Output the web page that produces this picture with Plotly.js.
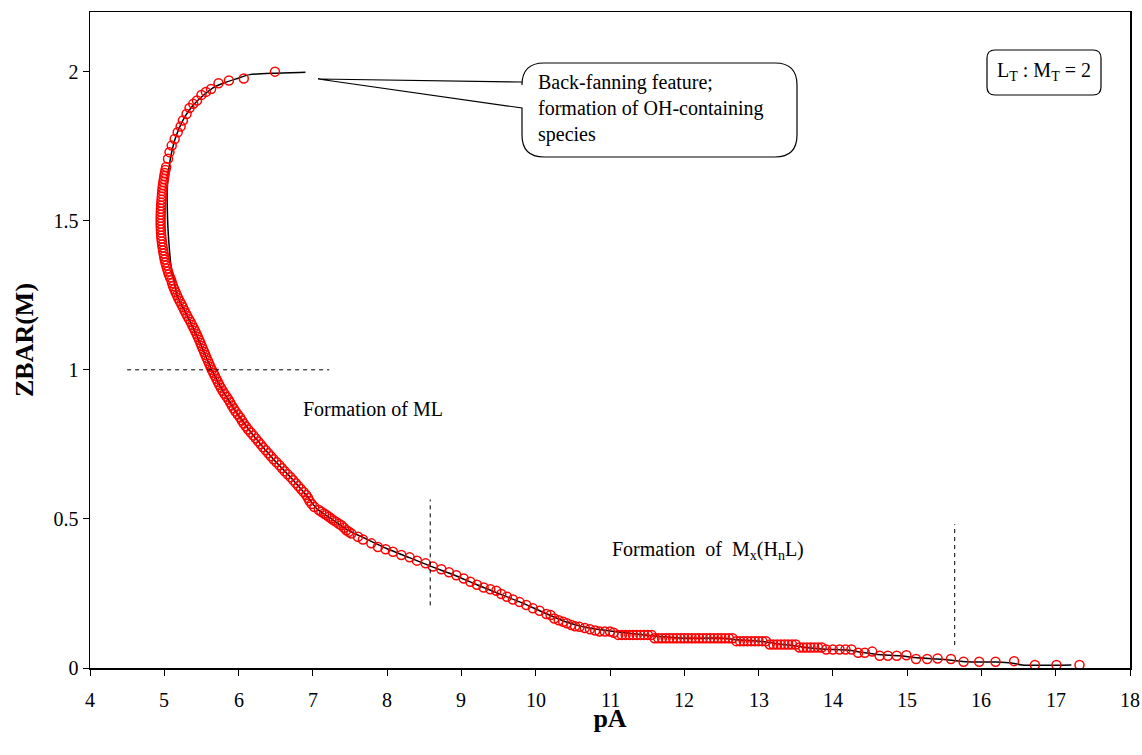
<!DOCTYPE html>
<html>
<head>
<meta charset="utf-8">
<script src="https://cdn.plot.ly/plotly-3.0.1.min.js"></script>
<style>
  html, body { margin: 0; padding: 0; background: #ffffff; }
  #chart { width: 1142px; height: 755px; }
</style>
</head>
<body>
<div id="chart"></div>
<script>
// Experimental ZBAR(M) values against pA
const pA_obs = [
  6.49, 6.07, 5.87, 5.73, 5.63, 5.56, 5.50, 5.44, 5.39, 5.34, 5.30, 5.25, 5.22, 5.18, 5.14, 5.10, 5.07, 5.05,
  5.025, 5.016, 5.008, 5.001, 4.995, 4.988, 4.982, 4.977, 4.973, 4.969, 4.966, 4.963, 4.960, 4.957, 4.955, 4.953,
  4.952, 4.951, 4.951, 4.951, 4.952, 4.954, 4.956, 4.959, 4.962, 4.967, 4.972, 4.978, 4.984, 4.991, 4.998, 5.006,
  5.015, 5.026, 5.038, 5.050, 5.062, 5.078, 5.094, 5.105, 5.118, 5.135, 5.152, 5.170, 5.188, 5.208, 5.230, 5.250,
  5.270, 5.290, 5.310, 5.333, 5.355, 5.375, 5.395, 5.415, 5.435, 5.452, 5.470, 5.487, 5.503, 5.520, 5.537, 5.553,
  5.570, 5.588, 5.605, 5.622, 5.640, 5.660, 5.680, 5.700, 5.720, 5.740, 5.762, 5.786, 5.810, 5.838, 5.865, 5.888,
  5.910, 5.935, 5.960, 5.990, 6.020, 6.045, 6.070, 6.100, 6.130, 6.165, 6.200, 6.232, 6.265, 6.297, 6.330, 6.365,
  6.400, 6.435, 6.470, 6.510, 6.550, 6.585, 6.620, 6.660, 6.700, 6.735, 6.770, 6.805, 6.840, 6.875, 6.910, 6.935,
  6.955, 6.985, 7.020, 7.080, 7.114, 7.150, 7.182, 7.215, 7.249, 7.280, 7.316, 7.350, 7.384, 7.420, 7.451, 7.485,
  7.518, 7.607, 7.674, 7.787, 7.876, 7.980, 8.078, 8.191, 8.303, 8.401, 8.518, 8.616, 8.729, 8.832, 8.931, 9.030,
  9.120, 9.209, 9.299, 9.389, 9.470, 9.537, 9.612, 9.693, 9.783, 9.873, 9.962, 10.052, 10.143, 10.20, 10.25, 10.31,
  10.37, 10.42, 10.48, 10.53, 10.59, 10.66, 10.73, 10.80, 10.86, 10.93, 11.00, 11.05, 11.11,
  11.16, 11.21, 11.26, 11.31, 11.36, 11.41, 11.46, 11.51, 11.56,
  11.60, 11.65, 11.70, 11.75, 11.80, 11.85, 11.90, 11.95, 12.00, 12.05, 12.10, 12.15, 12.20, 12.25, 12.30, 12.35,
  12.40, 12.45, 12.50, 12.55, 12.60, 12.65,
  12.70, 12.75, 12.80, 12.85, 12.90, 12.95, 13.00, 13.05, 13.10,
  13.15, 13.20, 13.25, 13.30, 13.35, 13.40, 13.45, 13.50,
  13.55, 13.60, 13.65, 13.70, 13.75, 13.80, 13.85,
  13.91, 14.00, 14.09, 14.17, 14.25, 14.34, 14.43, 14.53, 14.63, 14.74, 14.86, 14.99,
  15.12, 15.27, 15.41, 15.59, 15.76, 15.97, 16.19, 16.44, 16.72, 17.01, 17.32
];
const zbar_obs = [
  2.000, 1.977, 1.970, 1.961, 1.942, 1.932, 1.922, 1.903, 1.892, 1.878, 1.858, 1.836, 1.816, 1.797, 1.774, 1.752, 1.730, 1.708,
  1.680, 1.670, 1.660, 1.650, 1.640, 1.630, 1.620, 1.610, 1.600, 1.590, 1.580, 1.570, 1.560, 1.550, 1.540, 1.530,
  1.520, 1.510, 1.500, 1.490, 1.480, 1.470, 1.460, 1.450, 1.440, 1.430, 1.420, 1.410, 1.400, 1.390, 1.380, 1.370,
  1.360, 1.350, 1.340, 1.330, 1.320, 1.310, 1.300, 1.290, 1.280, 1.270, 1.260, 1.250, 1.240, 1.230, 1.220, 1.210,
  1.200, 1.190, 1.180, 1.170, 1.160, 1.150, 1.140, 1.130, 1.120, 1.110, 1.100, 1.090, 1.080, 1.070, 1.060, 1.050,
  1.040, 1.030, 1.020, 1.010, 1.000, 0.990, 0.980, 0.970, 0.960, 0.950, 0.940, 0.930, 0.920, 0.910, 0.900, 0.890,
  0.880, 0.870, 0.860, 0.850, 0.840, 0.830, 0.820, 0.810, 0.800, 0.790, 0.780, 0.770, 0.760, 0.750, 0.740, 0.730,
  0.720, 0.710, 0.700, 0.690, 0.680, 0.670, 0.660, 0.650, 0.640, 0.630, 0.620, 0.610, 0.600, 0.590, 0.580, 0.570,
  0.560, 0.550, 0.540, 0.530, 0.524, 0.518, 0.513, 0.507, 0.501, 0.495, 0.490, 0.484, 0.479, 0.470, 0.462, 0.457,
  0.451, 0.440, 0.431, 0.418, 0.406, 0.398, 0.390, 0.379, 0.371, 0.360, 0.351, 0.340, 0.331, 0.321, 0.311, 0.300,
  0.289, 0.279, 0.270, 0.264, 0.259, 0.248, 0.239, 0.230, 0.221, 0.211, 0.200, 0.192, 0.181, 0.178, 0.166, 0.160,
  0.155, 0.150, 0.144, 0.140, 0.138, 0.134, 0.130, 0.126, 0.122, 0.122, 0.122, 0.118, 0.111,
  0.111, 0.111, 0.111, 0.111, 0.111, 0.111, 0.111, 0.111, 0.111,
  0.100, 0.100, 0.100, 0.100, 0.100, 0.100, 0.100, 0.100, 0.100, 0.100, 0.100, 0.100, 0.100, 0.100, 0.100, 0.100,
  0.100, 0.100, 0.100, 0.100, 0.100, 0.100,
  0.090, 0.090, 0.090, 0.090, 0.090, 0.090, 0.090, 0.090, 0.090,
  0.079, 0.079, 0.079, 0.079, 0.079, 0.079, 0.079, 0.079,
  0.069, 0.069, 0.069, 0.069, 0.069, 0.069, 0.069,
  0.062, 0.062, 0.062, 0.062, 0.062, 0.051, 0.051, 0.055, 0.041, 0.041, 0.041, 0.043,
  0.030, 0.030, 0.032, 0.030, 0.021, 0.021, 0.021, 0.023, 0.010, 0.010, 0.010
];

// Calculated (model) curve
const pA_calc = [
  6.90, 6.50, 6.15, 5.97, 5.80, 5.65, 5.50, 5.38, 5.28, 5.20, 5.14, 5.10, 5.07, 5.05, 5.04, 5.04, 5.045, 5.055,
  5.07, 5.085, 5.10, 5.13, 5.17, 5.27, 5.39, 5.50, 5.64, 5.81, 6.02, 6.20, 6.47, 6.70, 6.91, 7.05, 7.25, 7.45,
  7.70, 8.00, 8.30, 8.60, 8.90, 9.20, 9.50, 9.80, 10.10, 10.40, 10.70, 11.00, 11.20, 11.50, 12.00, 12.50, 12.70,
  13.00, 13.30, 13.60, 13.90, 14.20, 14.40, 14.60, 14.90, 15.10, 15.40, 15.60, 15.80, 16.20, 16.40, 16.55, 17.21
];
const zbar_calc = [
  1.998, 1.995, 1.990, 1.976, 1.962, 1.945, 1.915, 1.885, 1.850, 1.810, 1.770, 1.730, 1.690, 1.650, 1.600, 1.550, 1.500, 1.450,
  1.400, 1.360, 1.330, 1.300, 1.250, 1.200, 1.140, 1.080, 1.000, 0.920, 0.840, 0.780, 0.700, 0.640, 0.580, 0.535, 0.500, 0.465,
  0.435, 0.400, 0.370, 0.340, 0.312, 0.280, 0.250, 0.220, 0.187, 0.155, 0.135, 0.124, 0.118, 0.110, 0.100, 0.100, 0.095,
  0.090, 0.080, 0.070, 0.063, 0.060, 0.052, 0.045, 0.041, 0.035, 0.030, 0.026, 0.021, 0.020, 0.017, 0.010, 0.010
];

const xTicks = [4, 5, 6, 7, 8, 9, 10, 11, 12, 13, 14, 15, 16, 17, 18];
const xTickText = ['4', '5', '6', '7', '8', '9', '10', '11', '12', '13', '14', '15', '16', '17', '18'];
const yTicks = [0, 0.5, 1, 1.5, 2];
const yTickText = ['0', '0.5', '1', '1.5', '2'];

// Plot frame in pixels (used to place callouts in paper coordinates)
const W = 1142, H = 755;
const M = { l: 90, r: 12, t: 12, b: 87 };
const PW = W - M.l - M.r, PH = H - M.t - M.b;
const px = v => (v - M.l) / PW;
const py = v => (H - M.b - v) / PH;

function roundRect(x0, y0, x1, y1, r) {
  return 'M' + px(x0 + r) + ',' + py(y0) +
    ' L' + px(x1 - r) + ',' + py(y0) +
    ' Q' + px(x1) + ',' + py(y0) + ' ' + px(x1) + ',' + py(y0 + r) +
    ' L' + px(x1) + ',' + py(y1 - r) +
    ' Q' + px(x1) + ',' + py(y1) + ' ' + px(x1 - r) + ',' + py(y1) +
    ' L' + px(x0 + r) + ',' + py(y1) +
    ' Q' + px(x0) + ',' + py(y1) + ' ' + px(x0) + ',' + py(y1 - r) +
    ' L' + px(x0) + ',' + py(y0 + r) +
    ' Q' + px(x0) + ',' + py(y0) + ' ' + px(x0 + r) + ',' + py(y0) + ' Z';
}

function calloutPath(x0, y0, x1, y1, r, tipX, tipY, w0, w1) {
  return 'M' + px(x0) + ',' + py(w0) +
    ' L' + px(tipX) + ',' + py(tipY) +
    ' L' + px(x0) + ',' + py(w1) +
    ' L' + px(x0) + ',' + py(y1 - r) +
    ' Q' + px(x0) + ',' + py(y1) + ' ' + px(x0 + r) + ',' + py(y1) +
    ' L' + px(x1 - r) + ',' + py(y1) +
    ' Q' + px(x1) + ',' + py(y1) + ' ' + px(x1) + ',' + py(y1 - r) +
    ' L' + px(x1) + ',' + py(y0 + r) +
    ' Q' + px(x1) + ',' + py(y0) + ' ' + px(x1 - r) + ',' + py(y0) +
    ' L' + px(x0 + r) + ',' + py(y0) +
    ' Q' + px(x0) + ',' + py(y0) + ' ' + px(x0) + ',' + py(y0 + r) + ' Z';
}

const serif = '"Liberation Serif", "Times New Roman", Times, serif';

const traces = [
  {
    x: pA_calc, y: zbar_calc, type: 'scatter', mode: 'lines',
    line: { color: '#000000', width: 1.5, shape: 'spline', smoothing: 0.6 },
    hoverinfo: 'skip'
  },
  {
    x: pA_obs, y: zbar_obs, type: 'scatter', mode: 'markers',
    marker: { symbol: 'circle-open', size: 9, color: '#ff0000', line: { color: '#ff0000', width: 1.5 } }
  }
];

const dashLine = { color: '#000000', width: 1, dash: '4px,4px' };

// x tick labels sit a little lower than the axis default, so they are placed as annotations
const xLabelAnn = xTicks.map((v, i) => ({
  xref: 'x', yref: 'paper', x: v, y: py(700), text: xTickText[i], showarrow: false,
  xanchor: 'center', yanchor: 'middle', font: { family: serif, size: 20, color: '#000000' }
}));

const layout = {
  width: W, height: H,
  margin: M,
  paper_bgcolor: '#ffffff', plot_bgcolor: '#ffffff',
  showlegend: false,
  font: { family: serif, size: 20, color: '#000000' },
  xaxis: {
    range: [4, 18], tickvals: xTicks, ticks: 'outside', ticklen: 6, tickwidth: 1, tickcolor: '#000000',
    showline: true, linecolor: '#000000', linewidth: 1.5, mirror: true, showgrid: false, zeroline: false,
    showticklabels: false,
    title: { text: '<b>pA</b>', font: { family: serif, size: 26, color: '#000000' }, standoff: 34 }
  },
  yaxis: {
    range: [0, 2.2], tickvals: yTicks, ticktext: yTickText, ticks: 'outside', ticklen: 6, tickwidth: 1, tickcolor: '#000000',
    showline: true, linecolor: '#000000', linewidth: 1.5, mirror: true, showgrid: false, zeroline: false,
    tickfont: { family: serif, size: 20, color: '#000000' },
    title: { text: '<b>ZBAR(M)</b>', font: { family: serif, size: 26, color: '#000000' }, standoff: 12 }
  },
  shapes: [
    { type: 'line', xref: 'x', yref: 'y', x0: 4.5, x1: 7.22, y0: 1, y1: 1, line: dashLine },
    { type: 'line', xref: 'x', yref: 'y', x0: 8.58, x1: 8.58, y0: 0.21, y1: 0.565, line: dashLine },
    { type: 'line', xref: 'x', yref: 'y', x0: 15.64, x1: 15.64, y0: 0.077, y1: 0.482, line: dashLine },
    { type: 'path', xref: 'paper', yref: 'paper', path: calloutPath(522, 63, 797, 157, 22, 318, 79, 82, 108),
      line: { color: '#000000', width: 1.2 }, fillcolor: '#ffffff' },
    { type: 'path', xref: 'paper', yref: 'paper', path: roundRect(987, 50, 1101, 95, 8),
      line: { color: '#000000', width: 1.2 }, fillcolor: '#ffffff' }
  ],
  annotations: xLabelAnn.concat([
    { xref: 'paper', yref: 'paper', x: px(373), y: py(409), text: 'Formation of ML', showarrow: false,
      xanchor: 'center', yanchor: 'middle', font: { family: serif, size: 20 } },
    { xref: 'paper', yref: 'paper', x: px(708), y: py(550), text: 'Formation&nbsp; of&nbsp; M<sub>x</sub>(H<sub>n</sub>L)',
      showarrow: false, xanchor: 'center', yanchor: 'middle', font: { family: serif, size: 20 } },
    { xref: 'paper', yref: 'paper', x: px(536), y: py(108), text: 'Back-fanning feature;<br>formation of OH-containing<br>species',
      showarrow: false, xanchor: 'left', yanchor: 'middle', align: 'left', font: { family: serif, size: 20 } },
    { xref: 'paper', yref: 'paper', x: px(1044), y: py(72), text: 'L<sub>T</sub> : M<sub>T</sub> = 2',
      showarrow: false, xanchor: 'center', yanchor: 'middle', font: { family: serif, size: 20 } }
  ])
};

Plotly.newPlot('chart', traces, layout, { displayModeBar: false, staticPlot: true });
</script>
</body>
</html>
